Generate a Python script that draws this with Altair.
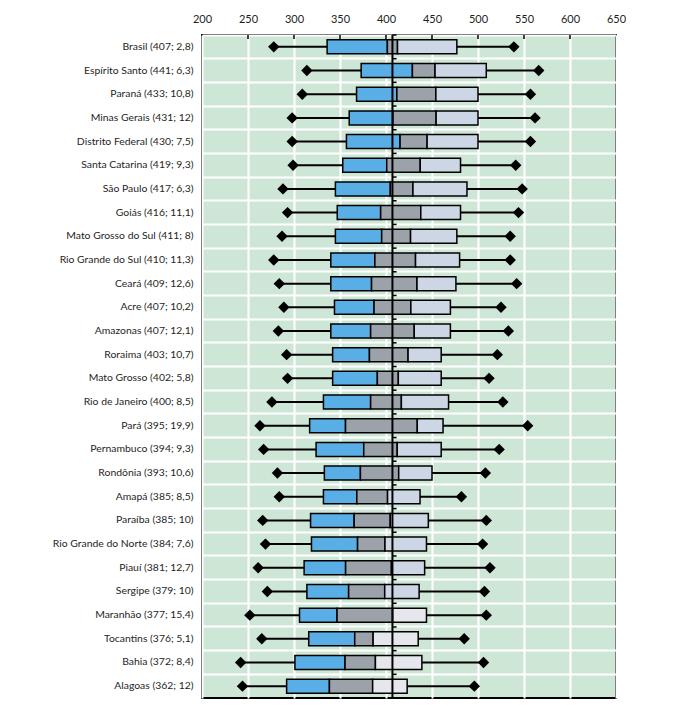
import altair as alt
import pandas as pd

labels = ["Brasil (407; 2,8)", "Espírito Santo (441; 6,3)", "Paraná (433; 10,8)",
          "Minas Gerais (431; 12)", "Distrito Federal (430; 7,5)", "Santa Catarina (419; 9,3)",
          "São Paulo (417; 6,3)", "Goiás (416; 11,1)", "Mato Grosso do Sul (411; 8)",
          "Rio Grande do Sul (410; 11,3)", "Ceará (409; 12,6)", "Acre (407; 10,2)",
          "Amazonas (407; 12,1)", "Roraima (403; 10,7)", "Mato Grosso (402; 5,8)",
          "Rio de Janeiro (400; 8,5)", "Pará (395; 19,9)", "Pernambuco (394; 9,3)",
          "Rondônia (393; 10,6)", "Amapá (385; 8,5)", "Paraíba (385; 10)",
          "Rio Grande do Norte (384; 7,6)", "Piauí (381; 12,7)", "Sergipe (379; 10)",
          "Maranhão (377; 15,4)", "Tocantins (376; 5,1)", "Bahia (372; 8,4)", "Alagoas (362; 12)"]

mins = [278, 314, 309, 298, 298, 299, 288, 293, 287, 278, 284, 289, 283, 292,
        293, 276, 263, 267, 282, 284, 266, 269, 261, 271, 252, 265, 242, 244]
q1 = [336, 373, 368, 360, 357, 353, 345, 347, 345, 340, 340, 344, 340, 342,
      342, 332, 317, 324, 333, 332, 318, 319, 311, 314, 306, 316, 301, 292]
ci_lo = [401.5, 428.7, 411.8, 407.5, 415.3, 400.8, 404.7, 394.2, 395.3, 387.9, 384.3, 387.0, 383.3, 382.0,
         390.6, 383.3, 356.0, 375.8, 372.2, 368.3, 365.4, 369.1, 356.1, 359.4, 346.8, 366.0, 355.5, 338.5]
ci_hi = [412.5, 453.3, 454.2, 454.5, 444.7, 437.2, 429.3, 437.8, 426.7, 432.1, 433.7, 427.0, 430.7, 424.0,
         413.4, 416.7, 434.0, 412.2, 413.8, 401.7, 404.6, 398.9, 405.9, 398.6, 407.2, 386.0, 388.5, 385.5]
q3 = [477, 509, 500, 500, 500, 481, 488, 481, 477, 480, 476, 470, 470, 460,
      460, 468, 462, 460, 450, 437, 446, 444, 442, 436, 444, 435, 439, 423]
maxs = [539, 566, 557, 562, 557, 541, 548, 544, 535, 535, 542, 525, 533, 521,
        512, 527, 554, 523, 508, 482, 509, 505, 513, 507, 509, 485, 506, 496]
brasil_mean = [407]
x_ticks = [200, 250, 300, 350, 400, 450, 500, 550, 600, 650]

df = pd.DataFrame({"label": labels, "mn": mins, "q1": q1, "lo": ci_lo, "hi": ci_hi,
                   "q3": q3, "mx": maxs, "idx": list(range(len(labels)))})
df["ref"] = brasil_mean[0]
df["ref2"] = brasil_mean[0] + 4.5

FONT = "Lato"
xscale = alt.Scale(domain=[200, 650], nice=False, zero=False)
xaxis = alt.Axis(orient="top", values=x_ticks, grid=True, gridColor="white", gridWidth=2,
                 ticks=False, domain=False, labelPadding=11, labelFont=FONT, labelFontSize=11,
                 labelColor="#1e1e1e", labelFlush=False, labelOverlap=False, title=None)
yaxis = alt.Axis(title=None, ticks=False, domain=False, labelPadding=9, grid=True,
                 gridColor="white", gridWidth=2, bandPosition=0, labelFont=FONT,
                 labelFontSize=10.4, labelColor="#1e1e1e", labelLimit=300)
yscale = alt.Scale(paddingInner=0, paddingOuter=0)


def X(f):
    return alt.X(f, scale=xscale, axis=xaxis)


Y = alt.Y("label:N", sort=labels, scale=yscale, axis=yaxis)

base = alt.Chart(df)

whisk = base.mark_rule(color="black", strokeWidth=2).encode(x=X("mn:Q"), x2="mx:Q", y=Y)
dmin = base.mark_point(shape="diamond", filled=True, size=130, color="black", opacity=1).encode(x=X("mn:Q"), y=Y)
dmax = base.mark_point(shape="diamond", filled=True, size=130, color="black", opacity=1).encode(x=X("mx:Q"), y=Y)
b1 = base.mark_bar(size=14, stroke="black", strokeWidth=1.5, color="#5aaee6").encode(x=X("q1:Q"), x2="lo:Q", y=Y)
b2 = base.mark_bar(size=14, stroke="black", strokeWidth=1.5, color="#9ca2a9").encode(x=X("lo:Q"), x2="hi:Q", y=Y)
b3 = base.mark_bar(size=14, stroke="black", strokeWidth=1.5).encode(
    x=X("hi:Q"), x2="q3:Q", y=Y,
    color=alt.condition(alt.datum.idx >= 24, alt.value("#e6e7ec"), alt.value("#cdd6e5")))
ref = alt.Chart(pd.DataFrame({"v": brasil_mean})).mark_rule(color="black", strokeWidth=2).encode(x=X("v:Q"))
small = base.mark_rule(color="black", strokeWidth=1.5).encode(
    x=X("ref:Q"), x2="ref2:Q", y=alt.Y("label:N", sort=labels, scale=yscale, axis=yaxis, bandPosition=0))
topticks = alt.Chart(pd.DataFrame({"t": x_ticks[1:-1]})).mark_rule(color="black", strokeWidth=1.5).encode(
    x=X("t:Q"), y=alt.value(0), y2=alt.value(4))

chart = alt.layer(whisk, dmin, dmax, b1, b2, b3, ref, small, topticks).properties(
    width=414, height=663,
    autosize=alt.AutoSizeParams(type="none"),
    padding={"left": 194, "top": 27, "right": 10, "bottom": 8},
).configure_view(fill="#cee6d6", stroke="black", strokeWidth=2)

chart.save("out.html", embed_options={"renderer": "svg", "actions": False})
